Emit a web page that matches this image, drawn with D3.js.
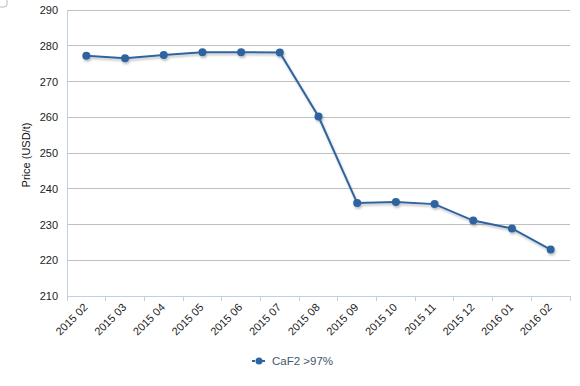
<!DOCTYPE html>
<html>
<head>
<meta charset="utf-8">
<script src="https://cdn.jsdelivr.net/npm/d3@7"></script>
<style>
  body { margin: 0; background: #fff; }
  svg { font-family: "Liberation Sans", Arial, sans-serif; }
</style>
</head>
<body>
<div class="canvas"></div>
<script>
// data
const months = ["2015 02", "2015 03", "2015 04", "2015 05", "2015 06", "2015 07",
  "2015 08", "2015 09", "2015 10", "2015 11", "2015 12", "2016 01", "2016 02"];
const prices = [277.2, 276.5, 277.4, 278.2, 278.2, 278.1, 260.2, 236.0, 236.3, 235.7, 231.1, 228.9, 223.0];
const yTicks = [210, 220, 230, 240, 250, 260, 270, 280, 290];
const seriesName = "CaF2 >97%";

const margin = { top: 10, right: 10, bottom: 90, left: 67 };
const width = 580, height = 386;
const graphWidth = width - margin.left - margin.right;
const graphHeight = height - margin.top - margin.bottom;
const lineColor = "#2f64a0";

const svg = d3.select(".canvas").append("svg")
  .attr("width", width)
  .attr("height", height);

// little checkbox in the corner
svg.append("rect")
  .attr("x", -6).attr("y", -6).attr("width", 13).attr("height", 13)
  .attr("rx", 3)
  .attr("fill", "#fff").attr("stroke", "#bbb");

const defs = svg.append("defs");
const shadow = defs.append("filter").attr("id", "shadow")
  .attr("x", "-10%").attr("y", "-10%").attr("width", "120%").attr("height", "130%");
shadow.append("feGaussianBlur").attr("in", "SourceAlpha").attr("stdDeviation", 1.2);
shadow.append("feOffset").attr("dx", 1).attr("dy", 1.5).attr("result", "off");
shadow.append("feComponentTransfer").append("feFuncA").attr("type", "linear").attr("slope", 0.25);
const merge = shadow.append("feMerge");
merge.append("feMergeNode");
merge.append("feMergeNode").attr("in", "SourceGraphic");

const graph = svg.append("g")
  .attr("transform", `translate(${margin.left}, ${margin.top})`);

// scales
const x = d3.scaleBand().domain(months).range([0, graphWidth]);
const y = d3.scaleLinear().domain([210, 290]).range([graphHeight, 0]);

// grid lines
graph.append("g")
  .selectAll("line")
  .data(yTicks.filter(d => d > 210))
  .join("line")
  .attr("x1", 0).attr("x2", graphWidth)
  .attr("y1", d => y(d)).attr("y2", d => y(d))
  .attr("stroke", "#c0c0c0").attr("stroke-width", 1)
  .attr("shape-rendering", "crispEdges");

// y axis labels
graph.append("g")
  .selectAll("text")
  .data(yTicks)
  .join("text")
  .attr("x", -9)
  .attr("y", d => y(d) + 4)
  .attr("text-anchor", "end")
  .attr("font-size", 11)
  .attr("fill", "#222")
  .text(d => d);

// y axis title
svg.append("text")
  .attr("transform", `translate(30, ${margin.top + graphHeight / 2 + 2}) rotate(-90)`)
  .attr("text-anchor", "middle")
  .attr("font-size", 11)
  .attr("fill", "#111")
  .text("Price (USD/t)");

// x axis
const xAxisGroup = graph.append("g")
  .attr("transform", `translate(0, ${graphHeight})`);
xAxisGroup.append("line")
  .attr("x1", 0).attr("x2", graphWidth)
  .attr("stroke", "#c0d0e0").attr("shape-rendering", "crispEdges");
xAxisGroup.selectAll(".tick")
  .data(months.concat(["end"]))
  .join("line")
  .attr("x1", (d, i) => i * x.step()).attr("x2", (d, i) => i * x.step())
  .attr("y1", 0).attr("y2", 5)
  .attr("stroke", "#c0d0e0").attr("shape-rendering", "crispEdges");
xAxisGroup.selectAll("text")
  .data(months)
  .join("text")
  .attr("transform", d => `translate(${x(d) + x.bandwidth() / 2 + 2}, 12) rotate(-45)`)
  .attr("text-anchor", "end")
  .attr("font-size", 11)
  .attr("fill", "#222")
  .text(d => d);

// left axis line
graph.append("line")
  .attr("x1", 0).attr("x2", 0).attr("y1", 0).attr("y2", graphHeight)
  .attr("stroke", "#c0d0e0").attr("shape-rendering", "crispEdges");

// line + points
const line = d3.line()
  .x((d, i) => x(months[i]) + x.bandwidth() / 2)
  .y(d => y(d));

const series = graph.append("g").attr("filter", "url(#shadow)");
series.append("path")
  .datum(prices)
  .attr("fill", "none")
  .attr("stroke", lineColor)
  .attr("stroke-width", 2)
  .attr("d", line);

series.selectAll("circle")
  .data(prices)
  .join("circle")
  .attr("cx", (d, i) => x(months[i]) + x.bandwidth() / 2)
  .attr("cy", d => y(d))
  .attr("r", 4)
  .attr("fill", lineColor);

// legend
const legend = svg.append("g").attr("transform", "translate(252, 361)");
legend.append("line")
  .attr("x1", 0).attr("x2", 14)
  .attr("stroke", lineColor).attr("stroke-width", 2)
  .attr("stroke-dasharray", "3,2");
legend.append("circle").attr("cx", 7).attr("r", 3.5).attr("fill", lineColor);
legend.append("text")
  .attr("x", 20).attr("y", 4)
  .attr("font-size", 11.5)
  .attr("fill", "#3e576f")
  .text(seriesName);
</script>
</body>
</html>
